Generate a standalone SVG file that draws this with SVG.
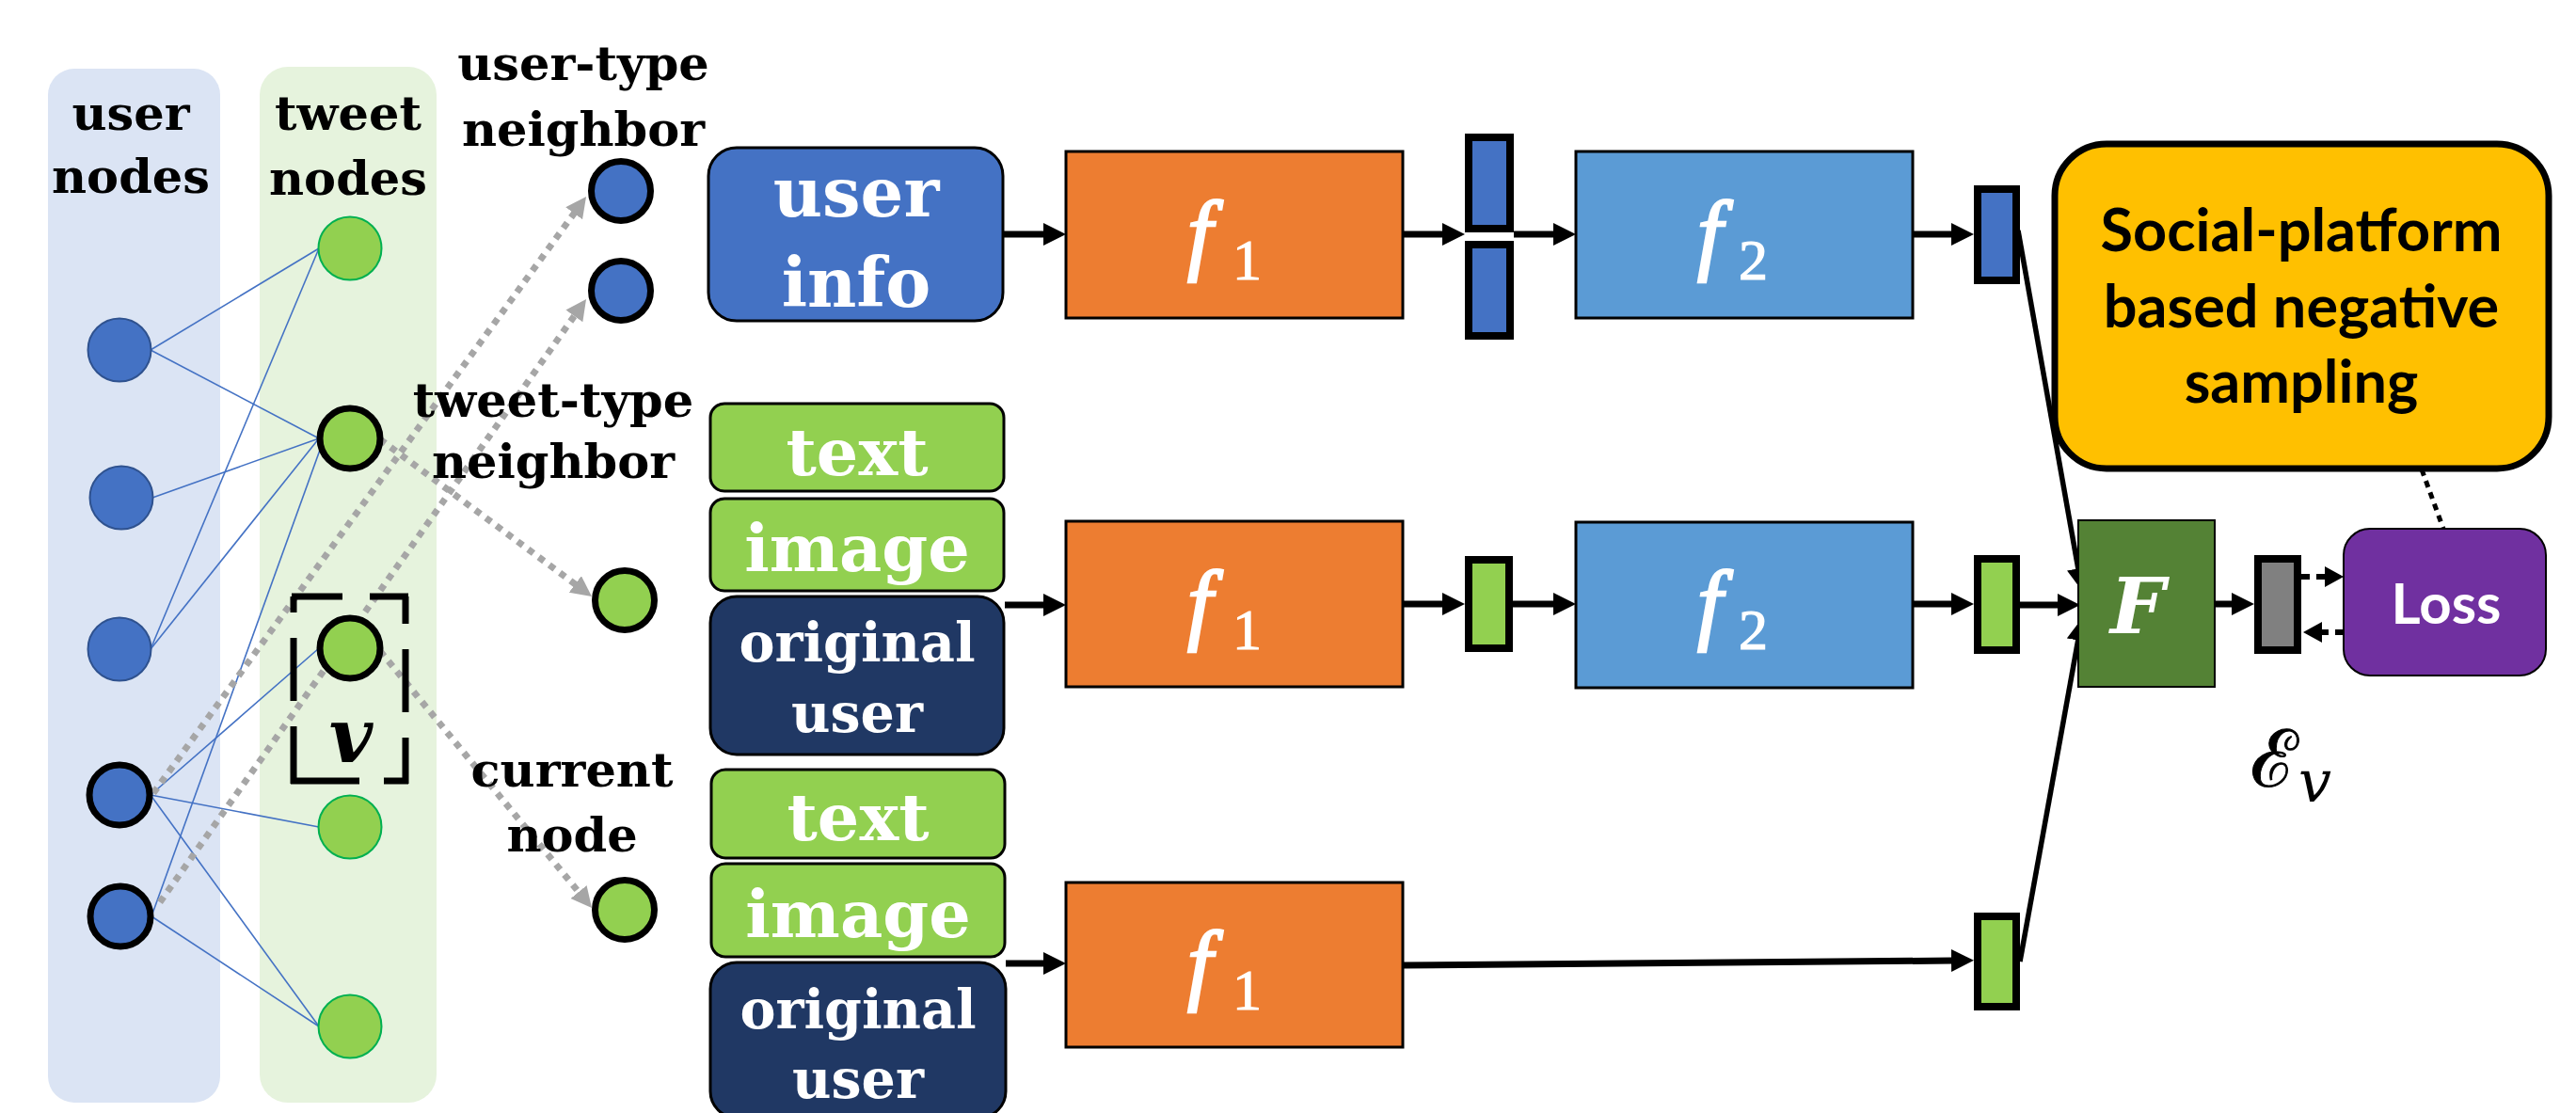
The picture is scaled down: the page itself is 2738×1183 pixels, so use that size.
<svg xmlns="http://www.w3.org/2000/svg" width="2738" height="1183" viewBox="0 0 2738 1183">
<style>
.lbl{font-family:"DejaVu Serif","Liberation Serif",serif;font-weight:bold;font-size:51px;fill:#000;text-anchor:middle}
.wt{font-family:"DejaVu Serif","Liberation Serif",serif;font-weight:bold;fill:#fff;text-anchor:middle}
.fx{font-family:"Liberation Serif",serif;font-style:italic;font-size:96px;fill:#fff;stroke:#fff;stroke-width:2.5}
.sub{font-family:"Liberation Serif",serif;font-size:62px;fill:#fff;stroke:#fff;stroke-width:1.2}
.cal{font-family:Lato,"Open Sans",sans-serif;font-weight:bold;text-anchor:middle}
.e{stroke:#4472c4;stroke-width:1.6;fill:none}
.dot{stroke:#a6a6a6;stroke-width:7;stroke-dasharray:7 7;fill:none;marker-end:url(#gh)}
.arr{stroke:#000;stroke-width:7;fill:none;marker-end:url(#ah)}
.arr2{stroke:#000;stroke-width:5.5;fill:none;marker-end:url(#ah)}
.dsh{stroke:#000;stroke-width:6;stroke-dasharray:9 7;fill:none;marker-end:url(#sh)}
.un{fill:#4472c4;stroke:#2f528f;stroke-width:2}
.unb{fill:#4472c4;stroke:#000;stroke-width:7}
.tn{fill:#92d050;stroke:#00b050;stroke-width:2}
.tnb{fill:#92d050;stroke:#000;stroke-width:7}
.bar{stroke:#000;stroke-width:8}
.box{stroke:#000;stroke-width:3}
.grn{fill:#92d050;stroke:#000;stroke-width:3}
.nav{fill:#203864;stroke:#000;stroke-width:3}
</style>
<defs>
<marker id="ah" markerUnits="userSpaceOnUse" markerWidth="26" markerHeight="26" refX="2" refY="12" orient="auto"><path d="M0,0 L24,12 L0,24 z" fill="#000"/></marker>
<marker id="gh" markerUnits="userSpaceOnUse" markerWidth="24" markerHeight="24" refX="2" refY="11" orient="auto"><path d="M0,0 L22,11 L0,22 z" fill="#a6a6a6"/></marker>
<marker id="sh" markerUnits="userSpaceOnUse" markerWidth="24" markerHeight="24" refX="2" refY="11" orient="auto"><path d="M0,0 L20,11 L0,22 z" fill="#000"/></marker>
</defs>
<rect width="2738" height="1183" fill="#fff"/>

<g id="user-panel">
<rect x="51" y="73" width="183" height="1099" rx="28" fill="#dbe4f4"/>
<text class="lbl" x="139" y="138">user</text>
<text class="lbl" x="139" y="205">nodes</text>
</g>
<g id="tweet-panel">
<rect x="276" y="71" width="188" height="1101" rx="30" fill="#e6f3dd"/>
<text class="lbl" x="370" y="138">tweet</text>
<text class="lbl" x="370" y="207">nodes</text>
</g>

<g id="connectors">
<line class="e" x1="160" y1="372" x2="339" y2="264"/>
<line class="e" x1="160" y1="372" x2="339" y2="466"/>
<line class="e" x1="162" y1="529" x2="339" y2="466"/>
<line class="e" x1="160" y1="690" x2="339" y2="264"/>
<line class="e" x1="160" y1="690" x2="339" y2="466"/>
<line class="e" x1="160" y1="845" x2="339" y2="689"/>
<line class="e" x1="160" y1="845" x2="339" y2="879"/>
<line class="e" x1="160" y1="845" x2="339" y2="1091"/>
<line class="e" x1="161" y1="974" x2="343" y2="470"/>
<line class="e" x1="161" y1="974" x2="339" y2="1091"/>
<line class="dot" x1="163" y1="843" x2="611.3" y2="225.2"/>
<line class="dot" x1="170" y1="959" x2="611.5" y2="334.3"/>
<line class="dot" x1="404" y1="467" x2="612.9" y2="622.1"/>
<line class="dot" x1="404" y1="692" x2="616.3" y2="949.6"/>
<line class="arr" x1="1067" y1="249" x2="1111" y2="249"/>
<line class="arr" x1="1491" y1="249" x2="1535" y2="249"/>
<line class="arr" x1="1609" y1="249" x2="1653" y2="249"/>
<line class="arr" x1="2033" y1="249" x2="2076" y2="249"/>
<line class="arr" x1="1068" y1="643" x2="1111" y2="643"/>
<line class="arr" x1="1491" y1="642" x2="1535" y2="642"/>
<line class="arr" x1="1608" y1="642" x2="1653" y2="642"/>
<line class="arr" x1="2033" y1="642" x2="2076" y2="642"/>
<line class="arr" x1="2147" y1="643" x2="2189" y2="643"/>
<line class="arr" x1="1069" y1="1024" x2="1111" y2="1024"/>
<line class="arr" x1="1491" y1="1026" x2="2076" y2="1021"/>
<line class="arr" x1="2354" y1="642" x2="2374" y2="642"/>
<line class="arr2" x1="2145" y1="245" x2="2209.2" y2="606.3"/>
<line class="arr2" x1="2147" y1="1022" x2="2209.1" y2="678.6"/>
<line class="dsh" x1="2446" y1="613" x2="2473" y2="613"/>
<line class="dsh" x1="2491" y1="672" x2="2466" y2="672"/>
<line x1="2574" y1="499" x2="2597" y2="562" stroke="#000" stroke-width="5" stroke-dasharray="7 6"/>
</g>

<g id="user-nodes">
<circle class="un" cx="127" cy="372" r="33.5"/>
<circle class="un" cx="129" cy="529" r="33.5"/>
<circle class="un" cx="127" cy="690" r="33.5"/>
<circle class="unb" cx="127" cy="845" r="32"/>
<circle class="unb" cx="128" cy="974" r="32"/>
</g>
<g id="tweet-nodes">
<circle class="tn" cx="372" cy="264" r="33.5"/>
<circle class="tnb" cx="372" cy="466" r="32"/>
<circle class="tnb" cx="372" cy="689" r="32"/>
<circle class="tn" cx="372" cy="879" r="33.5"/>
<circle class="tn" cx="372" cy="1091" r="33.5"/>
</g>
<g id="current-v" stroke="#000" stroke-width="7" fill="none">
<path d="M310,634 H364 M312,634 V651 M393,634 H434 M431,634 V663 M312,678 V745 M431,690 V757 M312,772 V833 M309,830 H382 M431,784 V833 M408,830 H434"/>
<text x="373" y="810" font-family="DejaVu Serif, serif" font-weight="bold" font-style="italic" font-size="80" text-anchor="middle" fill="#000" stroke="none">v</text>
</g>

<g id="user-type-neighbor">
<text class="lbl" x="620" y="85">user-type</text>
<text class="lbl" x="620" y="155">neighbor</text>
<circle class="unb" cx="660" cy="203" r="31.5"/>
<circle class="unb" cx="660" cy="309" r="31.5"/>
</g>
<g id="tweet-type-neighbor">
<text class="lbl" x="588" y="443">tweet-type</text>
<text class="lbl" x="588" y="508">neighbor</text>
<circle class="tnb" cx="664" cy="638" r="31.5"/>
</g>
<g id="current-node">
<text class="lbl" x="608" y="836">current</text>
<text class="lbl" x="608" y="905">node</text>
<circle class="tnb" cx="664" cy="967" r="31.5"/>
</g>

<g id="user-info">
<rect x="753" y="157" width="313" height="184" rx="30" fill="#4472c4" class="box"/>
<text class="wt" x="910" y="230" font-size="72">user</text>
<text class="wt" x="910" y="326" font-size="72">info</text>
</g>
<g id="tweet-neighbor-inputs">
<rect class="grn" x="755" y="429" width="312" height="93" rx="15"/>
<text class="wt" x="911" y="505" font-size="70">text</text>
<rect class="grn" x="755" y="530" width="312" height="98" rx="15"/>
<text class="wt" x="911" y="607" font-size="70">image</text>
<rect class="nav" x="755" y="634" width="312" height="168" rx="28"/>
<text class="wt" x="911" y="703" font-size="57">original</text>
<text class="wt" x="911" y="778" font-size="57">user</text>
</g>
<g id="current-inputs">
<rect class="grn" x="756" y="818" width="312" height="94" rx="15"/>
<text class="wt" x="912" y="893" font-size="70">text</text>
<rect class="grn" x="756" y="918" width="312" height="99" rx="15"/>
<text class="wt" x="912" y="996" font-size="70">image</text>
<rect class="nav" x="755" y="1023" width="314" height="165" rx="28"/>
<text class="wt" x="912" y="1093" font-size="57">original</text>
<text class="wt" x="912" y="1167" font-size="57">user</text>
</g>

<g id="f1-top">
<rect x="1133" y="161" width="358" height="177" fill="#ed7d31" class="box"/>
<text class="fx" x="1262" y="280">f</text><text class="sub" x="1310" y="297">1</text>
</g>
<g id="f1-mid">
<rect x="1133" y="554" width="358" height="176" fill="#ed7d31" class="box"/>
<text class="fx" x="1262" y="673">f</text><text class="sub" x="1310" y="690">1</text>
</g>
<g id="f1-bot">
<rect x="1133" y="938" width="358" height="175" fill="#ed7d31" class="box"/>
<text class="fx" x="1262" y="1056">f</text><text class="sub" x="1310" y="1073">1</text>
</g>

<g id="bars-top">
<rect class="bar" x="1561" y="146" width="44" height="97" fill="#4472c4"/>
<rect class="bar" x="1561" y="260" width="44" height="97" fill="#4472c4"/>
</g>
<g id="bar-mid"><rect class="bar" x="1561" y="595" width="43" height="94" fill="#92d050"/></g>

<g id="f2-top">
<rect x="1675" y="161" width="358" height="177" fill="#5b9bd5" class="box"/>
<text class="fx" x="1804" y="280">f</text><text class="sub" x="1848" y="297">2</text>
</g>
<g id="f2-mid">
<rect x="1675" y="555" width="358" height="176" fill="#5b9bd5" class="box"/>
<text class="fx" x="1804" y="673">f</text><text class="sub" x="1848" y="690">2</text>
</g>

<g id="out-user"><rect class="bar" x="2102" y="201" width="41" height="97" fill="#4472c4"/></g>
<g id="out-tweet"><rect class="bar" x="2102" y="594" width="41" height="97" fill="#92d050"/></g>
<g id="out-current"><rect class="bar" x="2102" y="974" width="41" height="96" fill="#92d050"/></g>

<g id="F">
<rect x="2209" y="553" width="145" height="177" fill="#548235" stroke="#000" stroke-width="2"/>
<text x="2272" y="673" font-family="DejaVu Serif, serif" font-weight="bold" font-style="italic" font-size="82" fill="#fff" text-anchor="middle">F</text>
</g>
<g id="embedding">
<rect class="bar" x="2400" y="594" width="42" height="97" fill="#808080"/>
<text x="2392" y="836" font-family="DejaVu Serif, serif" font-size="84" fill="#000" stroke="#000" stroke-width="1">ℰ<tspan font-style="italic" font-size="62" dy="16" stroke-width="0">v</tspan></text>
</g>
<g id="negative-sampling">
<rect x="2184" y="153" width="525" height="345" rx="55" fill="#ffc000" stroke="#000" stroke-width="7"/>
<text class="cal" x="2446" y="267" font-size="63">Social-platform</text>
<text class="cal" x="2446" y="348" font-size="63">based negative</text>
<text class="cal" x="2446" y="428" font-size="63">sampling</text>
</g>
<g id="loss">
<rect x="2491" y="562" width="215" height="156" rx="28" fill="#7030a0" stroke="#000" stroke-width="2"/>
<text class="cal" x="2600" y="663" font-size="60" fill="#fff">Loss</text>
</g>
</svg>
